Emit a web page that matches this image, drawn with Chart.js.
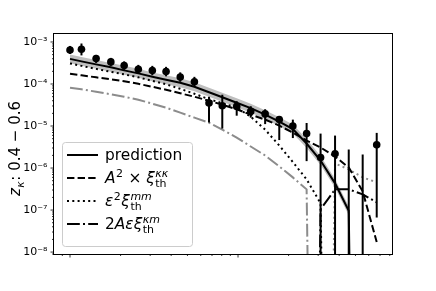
<!DOCTYPE html>
<html>
<head>
<meta charset="utf-8">
<title>z_kappa 0.4 - 0.6</title>
<style type="text/css">
  body { margin: 0; background: #fff; }
  #chart-container { width: 436px; height: 291px; }
</style>
</head>
<body>
<script type="text/javascript" src="https://cdn.jsdelivr.net/npm/chart.js@4.4.1/dist/chart.umd.min.js"></script>
<div id="chart-container"><canvas id="mycanvas" width="436" height="291"></canvas></div>

<script type="text/javascript">
// bin centres (no labels on the x axis in the original)
var ell = [1.0, 1.17, 1.43, 1.75, 2.10, 2.55, 3.09, 3.73, 4.53, 5.50, 6.72, 8.06,
           9.82, 11.9, 14.5, 17.6, 21.2, 25.6, 31.0, 37.8, 45.6, 55.2, 66.9];

// measured points, null = below the axis
var measured = [6.46e-4, 6.71e-4, 4.02e-4, 3.36e-4, 2.74e-4, 2.25e-4, 2.09e-4, 1.98e-4,
                1.46e-4, 1.13e-4, 3.53e-5, 3.04e-5, 2.93e-5, 2.23e-5, 1.94e-5, 1.42e-5,
                9.95e-6, 6.61e-6, 1.78e-6, 2.18e-6, null, null, 3.56e-6];
var errHigh = [8.04e-4, 9.2e-4, 4.92e-4, 4.18e-4, 3.45e-4, 2.85e-4, 2.70e-4, 2.56e-4,
               1.89e-4, 1.48e-4, 4.97e-5, 5.55e-5, 3.89e-5, 2.96e-5, 2.51e-5, 1.72e-5,
               1.42e-5, 1.18e-5, 6.6e-6, 5.92e-6, 2.76e-6, 2.10e-6, 6.86e-6];
// null = lower end is negative, bar runs off the bottom
var errLow = [5.20e-4, 4.79e-4, 3.18e-4, 2.70e-4, 2.17e-4, 1.75e-4, 1.61e-4, 1.52e-4,
              1.13e-4, 8.82e-5, 1.21e-5, 8.68e-6, 1.76e-5, 1.58e-5, 1.11e-5, 4.63e-6,
              5.17e-6, 1.46e-6, null, null, null, null, 6.64e-8];

// model curves, null = non-positive
var prediction = [3.96e-4, 3.45e-4, 2.93e-4, 2.49e-4, 2.11e-4, 1.79e-4, 1.48e-4, 1.26e-4,
                  1.07e-4, 8.58e-5, 6.36e-5, 4.84e-5, 3.59e-5, 2.66e-5, 1.86e-5, 1.27e-5,
                  8.44e-6, 3.83e-6, 1.51e-6, 4.32e-7, 9.62e-8, null, null];
var predHigh = [5.06e-4, 4.41e-4, 3.74e-4, 3.18e-4, 2.70e-4, 2.29e-4, 1.89e-4, 1.61e-4,
                1.37e-4, 1.10e-4, 8.13e-5, 6.19e-5, 4.59e-5, 3.40e-5, 2.38e-5, 1.62e-5,
                1.08e-5, 4.89e-6, 1.93e-6, 5.52e-7, 1.23e-7, null, null];
var predLow = [3.10e-4, 2.70e-4, 2.29e-4, 1.95e-4, 1.65e-4, 1.40e-4, 1.16e-4, 9.86e-5,
               8.37e-5, 6.71e-5, 4.98e-5, 3.79e-5, 2.81e-5, 2.08e-5, 1.46e-5, 9.94e-6,
               6.60e-6, 3.00e-6, 1.18e-6, 3.38e-7, 7.53e-8, null, null];
var termKK = [1.75e-4, 1.61e-4, 1.44e-4, 1.29e-4, 1.16e-4, 1.01e-4, 8.58e-5, 7.29e-5,
              6.02e-5, 4.97e-5, 4.00e-5, 3.21e-5, 2.51e-5, 1.86e-5, 1.42e-5, 1.02e-5,
              6.97e-6, 4.51e-6, 3.08e-6, 1.88e-6, 1.03e-6, 2.79e-7, 1.73e-8];
var termMM = [3.09e-4, 2.70e-4, 2.29e-4, 1.95e-4, 1.70e-4, 1.44e-4, 1.19e-4, 9.84e-5,
              7.69e-5, 5.86e-5, 4.34e-5, 3.49e-5, 2.73e-5, 1.67e-5, 8.22e-6, 3.43e-6,
              1.39e-6, 5.37e-7, 1.45e-7, null, null, null, null];
var termMMneg = [null, null, null, null, null, null, null, null, null, null, null, null,
                 null, null, null, null, null, null, null, 1.29e-6, 9.26e-7, 5.99e-7, 4.56e-7];
var termKM = [null, null, null, null, null, null, null, null, null, null, null, null,
              null, null, null, null, null, null, 1.04e-7, 3.11e-7, 3.11e-7, 2.37e-7, 1.53e-7];
var termKMneg = [8.13e-5, 7.49e-5, 6.54e-5, 5.70e-5, 4.97e-5, 4.22e-5, 3.40e-5, 2.73e-5,
                 2.08e-5, 1.58e-5, 1.20e-5, 8.22e-6, 5.31e-6, 3.25e-6, 1.99e-6, 1.09e-6,
                 5.99e-7, 3.11e-7, null, null, null, null, null];

var CLIP = 1e-30; // like matplotlib's log clipping of non-positive values

function clipped(arr){ return arr.map(function(v){ return v === null ? CLIP : v; }); }
function pairs(ys){ return ell.map(function(x, i){ return {x: x, y: ys[i]}; }); }

var supMap = {'-':'\u207B','0':'\u2070','1':'\u00B9','2':'\u00B2','3':'\u00B3','4':'\u2074',
              '5':'\u2075','6':'\u2076','7':'\u2077','8':'\u2078','9':'\u2079'};
function decadeLabel(v){
  var e = Math.round(Math.log10(v));
  return '10' + String(e).split('').map(function(c){ return supMap[c]; }).join('');
}
function isDecade(v){ var l = Math.log10(v); return Math.abs(l - Math.round(l)) < 1e-6; }

function logTicks(scale){
  var out = [];
  for (var e = -10; e <= 3; e++) {
    for (var m = 1; m <= 9; m++) {
      var v = m * Math.pow(10, e);
      if (v >= scale.min * 0.9999 && v <= scale.max * 1.0001) out.push({value: v, major: m === 1});
    }
  }
  scale.ticks = out;
}

var FONT = 'DejaVu Sans';

function drawMath(ctx, x, y, parts, size){
  var small = Math.round(size * 0.7);
  parts.forEach(function(p){
    if (p.t !== undefined) {
      ctx.font = (p.it ? 'italic ' : '') + size + 'px "' + FONT + '"';
      ctx.fillText(p.t, x, y);
      x += ctx.measureText(p.t).width;
    } else {
      var w = 0;
      if (p.sup) {
        ctx.font = (p.supIt ? 'italic ' : '') + small + 'px "' + FONT + '"';
        ctx.fillText(p.sup, x + 0.5, y - size * 0.42);
        w = ctx.measureText(p.sup).width;
      }
      if (p.sub) {
        ctx.font = (p.subIt ? 'italic ' : '') + small + 'px "' + FONT + '"';
        ctx.fillText(p.sub, x + 0.5, y + size * 0.25);
        w = Math.max(w, ctx.measureText(p.sub).width);
      }
      x += w + 1;
    }
  });
}

var legendRows = [
  {dash: [], parts: [{t: 'prediction'}]},
  {dash: [7.4, 3.2], parts: [{t: 'A', it: true}, {sup: '2'}, {t: ' \u00D7 '}, {t: '\u03BE', it: true}, {sup: '\u03BA\u03BA', supIt: true, sub: 'th'}]},
  {dash: [2, 3.3], parts: [{t: '\u03B5', it: true}, {sup: '2'}, {t: '\u03BE', it: true}, {sup: 'mm', supIt: true, sub: 'th'}]},
  {dash: [12.8, 3.2, 2, 3.2], parts: [{t: '2'}, {t: 'A\u03B5\u03BE', it: true}, {sup: '\u03BAm', supIt: true, sub: 'th'}]}
];

var errorBars = {
  id: 'errorBars',
  beforeDatasetDraw: function(chart, args){
    if (args.index !== 0) return;
    var ctx = chart.ctx, a = chart.chartArea;
    var xs = chart.scales.x, ys = chart.scales.y;
    ctx.save();
    ctx.beginPath(); ctx.rect(a.left, a.top, a.right - a.left, a.bottom - a.top); ctx.clip();
    ctx.strokeStyle = '#000'; ctx.lineWidth = 2;
    ell.forEach(function(x, i){
      var px = xs.getPixelForValue(x);
      var top = ys.getPixelForValue(errHigh[i]);
      var bot = errLow[i] === null ? a.bottom + 5 : ys.getPixelForValue(errLow[i]);
      ctx.beginPath(); ctx.moveTo(px, top); ctx.lineTo(px, bot); ctx.stroke();
    });
    ctx.restore();
  }
};

var frame = {
  id: 'frame',
  afterDraw: function(chart){
    var ctx = chart.ctx, a = chart.chartArea;
    ctx.save();
    // ticks: long for decades, short otherwise
    ctx.strokeStyle = '#000'; ctx.lineWidth = 0.8;
    chart.scales.x.ticks.forEach(function(t){
      var px = chart.scales.x.getPixelForValue(t.value);
      ctx.beginPath(); ctx.moveTo(px, a.bottom); ctx.lineTo(px, a.bottom + (t.major ? 3.5 : 2)); ctx.stroke();
    });
    chart.scales.y.ticks.forEach(function(t){
      var py = chart.scales.y.getPixelForValue(t.value);
      ctx.beginPath(); ctx.moveTo(a.left, py); ctx.lineTo(a.left - (t.major ? 3.5 : 2), py); ctx.stroke();
    });
    // axes box
    ctx.lineWidth = 1;
    ctx.strokeRect(a.left - 0.5, a.top - 0.5, a.right - a.left + 1, a.bottom - a.top + 1);

    // legend box
    var lx = 62, ly = 142, lw = 130, lh = 104;
    ctx.beginPath();
    ctx.roundRect(lx + 0.5, ly + 0.5, lw, lh, 3);
    ctx.fillStyle = 'rgba(255,255,255,0.8)';
    ctx.fill();
    ctx.strokeStyle = '#cccccc'; ctx.lineWidth = 1;
    ctx.stroke();
    legendRows.forEach(function(r, i){
      var cy = 155 + i * 23;
      ctx.strokeStyle = '#000'; ctx.lineWidth = 2;
      ctx.setLineDash(r.dash);
      ctx.beginPath(); ctx.moveTo(67, cy); ctx.lineTo(98, cy); ctx.stroke();
      ctx.setLineDash([]);
      ctx.fillStyle = '#000'; ctx.textBaseline = 'alphabetic'; ctx.textAlign = 'left';
      drawMath(ctx, 105, cy + 5, r.parts, 15.4);
    });

    // y axis title, rotated
    ctx.translate(20, (a.top + a.bottom) / 2);
    ctx.rotate(-Math.PI / 2);
    ctx.fillStyle = '#000';
    drawMath(ctx, -52, 0, [{t: 'z', it: true}, {sub: '\u03BA', subIt: true}, {t: ': 0.4 \u2212 0.6'}], 15);
    ctx.restore();
  }
};

var ctx = document.getElementById('mycanvas').getContext('2d');
var lineBase = {type: 'line', showLine: true, pointRadius: 0, borderWidth: 2, fill: false, clip: 0, tension: 0};

var chart = new Chart(ctx, {
  type: 'scatter',
  data: {
    datasets: [
      {label: 'data', data: pairs(measured), pointRadius: 3.8, pointBackgroundColor: '#000', pointBorderWidth: 0, showLine: false, clip: 0},
      Object.assign({}, lineBase, {label: 'prediction', data: pairs(clipped(prediction)), borderColor: '#000'}),
      Object.assign({}, lineBase, {label: 'kk', data: pairs(clipped(termKK)), borderColor: '#000', borderDash: [7.4, 3.2]}),
      Object.assign({}, lineBase, {label: 'mm', data: pairs(clipped(termMM)), borderColor: '#000', borderDash: [2, 3.3]}),
      Object.assign({}, lineBase, {label: 'mm neg', data: pairs(clipped(termMMneg)), borderColor: '#8c8c8c', borderDash: [2, 3.3]}),
      Object.assign({}, lineBase, {label: 'km', data: pairs(clipped(termKM)), borderColor: '#000', borderDash: [12.8, 3.2, 2, 3.2]}),
      Object.assign({}, lineBase, {label: 'km neg', data: pairs(clipped(termKMneg)), borderColor: '#8c8c8c', borderDash: [12.8, 3.2, 2, 3.2]}),
      Object.assign({}, lineBase, {label: 'band hi', data: pairs(predHigh), borderWidth: 0, borderColor: 'rgba(0,0,0,0)', backgroundColor: '#bfbfbf', fill: '+1', spanGaps: false}),
      Object.assign({}, lineBase, {label: 'band lo', data: pairs(predLow), borderWidth: 0, borderColor: 'rgba(0,0,0,0)', spanGaps: false})
    ]
  },
  options: {
    responsive: false,
    animation: false,
    devicePixelRatio: 1,
    layout: {padding: {left: 0, right: 44, top: 34, bottom: 0}},
    plugins: {legend: {display: false}, tooltip: {enabled: false}},
    scales: {
      x: {
        type: 'logarithmic', position: 'bottom', min: 0.803, max: 82.5,
        afterBuildTicks: logTicks,
        afterFit: function(s){ s.height = 37; },
        border: {display: false},
        grid: {drawOnChartArea: false, drawTicks: true, tickLength: 3.5, color: 'rgba(0,0,0,0)', tickColor: 'rgba(0,0,0,0)'},
        ticks: {callback: function(){ return ''; }, autoSkip: false, maxRotation: 0}
      },
      y: {
        type: 'logarithmic', position: 'left', min: 9.47e-9, max: 1.548e-3,
        afterBuildTicks: logTicks,
        afterFit: function(s){ s.width = 54; },
        border: {display: false},
        grid: {drawOnChartArea: false, drawTicks: true, tickLength: 3.5, color: 'rgba(0,0,0,0)', tickColor: 'rgba(0,0,0,0)'},
        ticks: {
          autoSkip: false, padding: 3, color: '#000',
          font: {family: FONT, size: 11},
          callback: function(v){ return isDecade(v) ? decadeLabel(v) : ''; }
        }
      }
    }
  },
  plugins: [errorBars, frame]
});
</script>
</body>
</html>
